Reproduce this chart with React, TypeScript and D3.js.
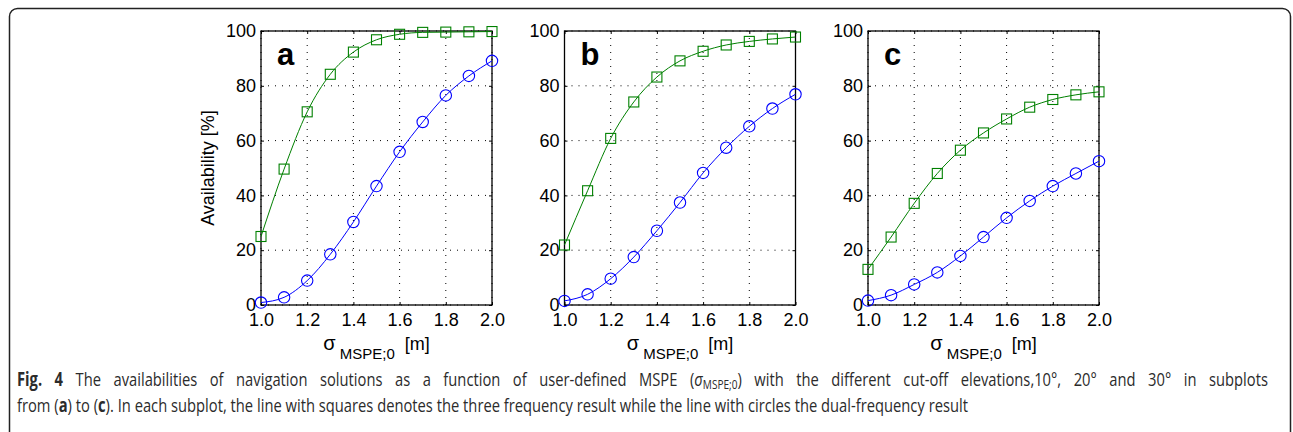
import React, { useRef, useEffect } from "react";
import * as d3 from "d3";

// sigma_MSPE;0 [m]
const sigma = [1.0, 1.1, 1.2, 1.3, 1.4, 1.5, 1.6, 1.7, 1.8, 1.9, 2.0];

// availability [%], squares = three frequency, circles = dual frequency
const tripleA = [25, 49.6, 70.5, 84.2, 92.3, 96.8, 98.8, 99.5, 99.6, 99.7, 99.8];
const dualA = [0.9, 2.8, 8.9, 18.5, 30.3, 43.4, 55.9, 66.8, 76.5, 83.6, 89.1];
const tripleB = [21.9, 41.7, 60.8, 74.1, 83.2, 89.1, 92.6, 94.9, 96.2, 97.1, 97.8];
const dualB = [1.5, 3.9, 9.6, 17.5, 27.1, 37.4, 48.2, 57.4, 65.2, 71.7, 76.9];
const tripleC = [13.0, 24.8, 37.1, 48.0, 56.5, 62.8, 67.9, 72.2, 75.0, 76.7, 77.8];
const dualC = [1.6, 3.6, 7.5, 11.9, 17.9, 24.8, 31.8, 38.0, 43.4, 48.0, 52.5];

const panelNames = ["a", "b", "c"];
const xTicks = [1.0, 1.2, 1.4, 1.6, 1.8, 2.0];
const yTicks = [0, 20, 40, 60, 80, 100];

const panels = [
  { name: panelNames[0], triple: tripleA, dual: dualA },
  { name: panelNames[1], triple: tripleB, dual: dualB },
  { name: panelNames[2], triple: tripleC, dual: dualC },
];

const axisFont = "Liberation Sans, Arial, sans-serif";
const captionFont = "Open Sans, Noto Sans, sans-serif";

export default function App() {
  const svgRef = useRef<SVGSVGElement>(null);

  useEffect(() => {
    const svg = d3.select(svgRef.current);
    svg.selectAll("*").remove();

    // outer rounded frame
    svg
      .append("rect")
      .attr("x", 9.5)
      .attr("y", 8.5)
      .attr("width", 1281)
      .attr("height", 440)
      .attr("rx", 8)
      .attr("fill", "none")
      .attr("stroke", "#222")
      .attr("stroke-width", 1.5);

    const top = 31,
      bottom = 305,
      w = 231;

    panels.forEach((p, i) => {
      const left = 261 + i * 303.5;
      const x = d3.scaleLinear().domain([1, 2]).range([left, left + w]);
      const y = d3.scaleLinear().domain([0, 100]).range([bottom, top]);
      const g = svg.append("g");

      // dotted grid
      g.selectAll(".vg")
        .data(xTicks)
        .join("line")
        .attr("x1", (d) => x(d))
        .attr("x2", (d) => x(d))
        .attr("y1", top)
        .attr("y2", bottom)
        .attr("stroke", "#000")
        .attr("stroke-width", 1)
        .attr("stroke-dasharray", "1,6");
      g.selectAll(".hg")
        .data(yTicks)
        .join("line")
        .attr("x1", left)
        .attr("x2", left + w)
        .attr("y1", (d) => y(d))
        .attr("y2", (d) => y(d))
        .attr("stroke", "#000")
        .attr("stroke-width", 1)
        .attr("stroke-dasharray", "1,6");

      // axes (inward ticks, box drawn separately)
      const xAxis = g
        .append("g")
        .attr("transform", `translate(0,${bottom})`)
        .call(
          d3
            .axisBottom(x)
            .tickValues(xTicks)
            .tickFormat(d3.format(".1f"))
            .tickSizeInner(-3)
            .tickSizeOuter(0)
            .tickPadding(8)
        );
      const yAxis = g
        .append("g")
        .attr("transform", `translate(${left},0)`)
        .call(
          d3
            .axisLeft(y)
            .tickValues(yTicks)
            .tickSizeInner(-3)
            .tickSizeOuter(0)
            .tickPadding(5)
        );
      g.append("g")
        .attr("transform", `translate(0,${top})`)
        .call(d3.axisTop(x).tickValues(xTicks).tickSizeInner(-3).tickSizeOuter(0).tickFormat(() => ""));
      g.append("g")
        .attr("transform", `translate(${left + w},0)`)
        .call(d3.axisRight(y).tickValues(yTicks).tickSizeInner(-3).tickSizeOuter(0).tickFormat(() => ""));
      g.selectAll(".domain").remove();
      g.selectAll(".tick line").attr("stroke", "#000");
      g.selectAll("g").attr("font-family", axisFont).attr("font-size", 18);
      [xAxis, yAxis].forEach((a) => a.selectAll("text").attr("fill", "#000"));

      g.append("rect")
        .attr("x", left)
        .attr("y", top)
        .attr("width", w)
        .attr("height", bottom - top)
        .attr("fill", "none")
        .attr("stroke", "#000")
        .attr("stroke-width", 1.3);

      // panel letter
      g.append("text")
        .attr("x", left + 16)
        .attr("y", 65)
        .attr("font-family", axisFont)
        .attr("font-weight", "bold")
        .attr("font-size", 31)
        .text(p.name);

      const line = d3
        .line<number>()
        .x((d, k) => x(sigma[k]))
        .y((d) => y(d))
        .curve(d3.curveMonotoneX);

      // three frequency (squares)
      g.append("path")
        .datum(p.triple)
        .attr("fill", "none")
        .attr("stroke", "#008000")
        .attr("stroke-width", 1)
        .attr("d", line);
      g.selectAll(".sq")
        .data(p.triple)
        .join("rect")
        .attr("x", (d, k) => x(sigma[k]) - 5)
        .attr("y", (d) => y(d) - 5)
        .attr("width", 10)
        .attr("height", 10)
        .attr("fill", "none")
        .attr("stroke", "#008000")
        .attr("stroke-width", 1.1);

      // dual frequency (circles)
      g.append("path")
        .datum(p.dual)
        .attr("fill", "none")
        .attr("stroke", "#0000ff")
        .attr("stroke-width", 1)
        .attr("d", line);
      g.selectAll(".ci")
        .data(p.dual)
        .join("circle")
        .attr("cx", (d, k) => x(sigma[k]))
        .attr("cy", (d) => y(d))
        .attr("r", 5.7)
        .attr("fill", "none")
        .attr("stroke", "#0000ff")
        .attr("stroke-width", 1.1);

      // x label
      const xl = g
        .append("text")
        .attr("x", left + w / 2)
        .attr("y", 350)
        .attr("text-anchor", "middle")
        .attr("font-family", axisFont)
        .attr("fill", "#000");
      xl.append("tspan").attr("font-size", 20).text("σ");
      xl.append("tspan").attr("font-size", 15).attr("dy", 9).text(" MSPE;0");
      xl.append("tspan").attr("font-size", 18).attr("dy", -9).attr("dx", 10).text("[m]");

      if (i === 0) {
        g.append("text")
          .attr("transform", `translate(${left - 47},${(top + bottom) / 2}) rotate(-90)`)
          .attr("text-anchor", "middle")
          .attr("font-family", axisFont)
          .attr("font-size", 18)
          .text("Availability [%]");
      }
    });

    // caption: condensed look, first line justified to the frame width
    const capSize = 19;
    const cap1 = svg.append("g");
    const c1 = cap1
      .append("text")
      .attr("fill", "#2b2b2b")
      .attr("font-family", captionFont)
      .attr("font-size", capSize);
    c1.append("tspan").attr("font-weight", "bold").text("Fig. 4");
    c1.append("tspan").text(
      " The availabilities of navigation solutions as a function of user-defined MSPE ("
    );
    c1.append("tspan").attr("font-style", "italic").text("σ");
    c1.append("tspan").attr("font-size", 13).attr("dy", 3).text("MSPE;0");
    c1.append("tspan")
      .attr("dy", -3)
      .text(") with the different cut-off elevations,10°, 20° and 30° in subplots");

    const cap2 = svg.append("g");
    const c2 = cap2
      .append("text")
      .attr("fill", "#2b2b2b")
      .attr("font-family", captionFont)
      .attr("font-size", capSize);
    c2.append("tspan").text("from (");
    c2.append("tspan").attr("font-weight", "bold").text("a");
    c2.append("tspan").text(") to (");
    c2.append("tspan").attr("font-weight", "bold").text("c");
    c2.append("tspan").text(
      "). In each subplot, the line with squares denotes the three frequency result while the line with circles the dual-frequency result"
    );

    const n2 = c2.node() as SVGTextElement;
    const sx = 951 / n2.getComputedTextLength();
    cap2.attr("transform", `translate(17,412) scale(${sx},1)`);

    const n1 = c1.node() as SVGTextElement;
    const spaces = (n1.textContent || "").split(" ").length - 1;
    const extra = (1251 / sx - n1.getComputedTextLength()) / spaces;
    c1.attr("word-spacing", extra);
    cap1.attr("transform", `translate(17,386) scale(${sx},1)`);
  }, []);

  return (
    <svg
      ref={svgRef}
      width={1293}
      height={432}
      style={{ position: "absolute", left: 0, top: 0, background: "#fff" }}
    ></svg>
  );
}
